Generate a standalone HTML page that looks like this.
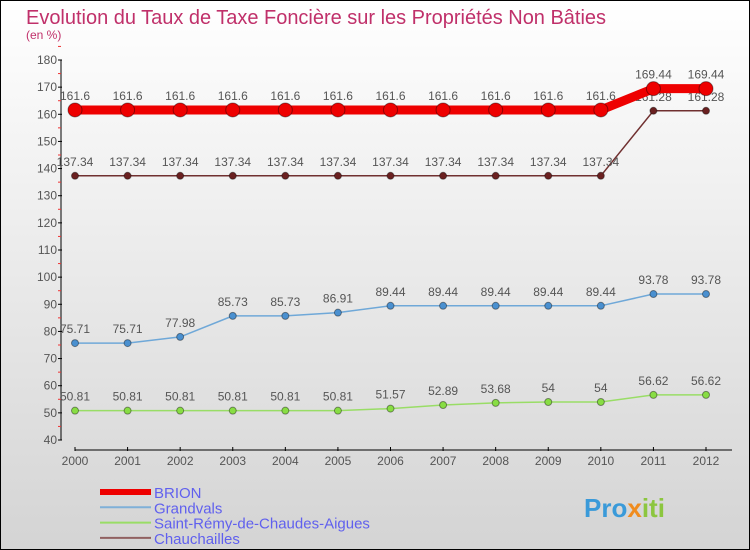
<!DOCTYPE html>
<html><head><meta charset="utf-8"><style>
body{margin:0}
svg{display:block;font-family:"Liberation Sans",sans-serif}
</style></head><body>
<svg width="750" height="550" xmlns="http://www.w3.org/2000/svg">
<defs><linearGradient id="bg" x1="0" y1="0" x2="0" y2="1"><stop offset="0" stop-color="#ffffff"/><stop offset="1" stop-color="#d4d4d4"/></linearGradient></defs>
<rect x="0.5" y="0.5" width="749" height="549" fill="url(#bg)" stroke="#000"/>
<text x="26" y="24" font-size="20" fill="#c0306a" textLength="580">Evolution du Taux de Taxe Foncière sur les Propriétés Non Bâties</text>
<text x="26" y="39" font-size="12" fill="#c0306a">(en %)</text>
<g id="axes"></g>
<g id="series"></g>
<g id="legend"></g>
<text x="584" y="517" font-size="26" font-weight="bold" fill="#3a9ad9">Pro<tspan fill="#f08c1e">x</tspan><tspan fill="#8cc63f">iti</tspan></text>
</svg>
<script>
const years=["2000","2001","2002","2003","2004","2005","2006","2007","2008","2009","2010","2011","2012"];
const yTicks=[40,50,60,70,80,90,100,110,120,130,140,150,160,170,180];
const brion=[161.6,161.6,161.6,161.6,161.6,161.6,161.6,161.6,161.6,161.6,161.6,169.44,169.44];
const grandvals=[75.71,75.71,77.98,85.73,85.73,86.91,89.44,89.44,89.44,89.44,89.44,93.78,93.78];
const saintRemy=[50.81,50.81,50.81,50.81,50.81,50.81,51.57,52.89,53.68,54,54,56.62,56.62];
const chauchailles=[137.34,137.34,137.34,137.34,137.34,137.34,137.34,137.34,137.34,137.34,137.34,161.28,161.28];
const NS="http://www.w3.org/2000/svg";
const xS=i=>75+i*(706-75)/(years.length-1);
const yS=v=>440-(v-40)*(380/140);
function mk(t,a,p){const e=document.createElementNS(NS,t);for(const k in a)e.setAttribute(k,a[k]);p.appendChild(e);return e;}
const ax=document.getElementById('axes');
let l=mk('line',{x1:61,y1:yS(180),x2:61,y2:440,stroke:'#000'},ax);


yTicks.forEach(v=>{
 mk('line',{x1:58,y1:yS(v),x2:62,y2:yS(v),stroke:'#000'},ax);
 mk('line',{x1:58,y1:yS(v+5),x2:61,y2:yS(v+5),stroke:'#e33'},ax);
 const t=mk('text',{x:57,y:yS(v)+4,'font-size':12,'text-anchor':'end',fill:'#555'},ax);t.textContent=v;
 
 
});
l=mk('line',{x1:75,y1:450,x2:732,y2:450,stroke:'#000'},ax);


years.forEach((y,i)=>{
 mk('line',{x1:xS(i),y1:447,x2:xS(i),y2:451,stroke:'#000'},ax);
 const t=mk('text',{x:xS(i),y:465,'font-size':12,'text-anchor':'middle',fill:'#555'},ax);t.textContent=y;
 
 
});
const sg=document.getElementById('series');
function series(d,name,col,w,r,dot){
 const g=mk('g',{},sg);
 
 
 mk('polyline',{points:d.map((v,i)=>xS(i)+','+yS(v)).join(' '),fill:'none',stroke:col,'stroke-width':w,'stroke-linejoin':'round'},g);
 d.forEach((v,i)=>{
  const c=mk('circle',{cx:xS(i),cy:yS(v),r:r,fill:dot,stroke:'rgba(0,0,0,0.4)','stroke-width':1},g);
  
  
  const t=mk('text',{x:xS(i),y:yS(v)-10,'font-size':12,'text-anchor':'middle',fill:'#555'},g);t.textContent=v;
  
  
 });
}
series(saintRemy,'saint-remy','#99dd66',1.5,3.5,'#88dd44');
series(grandvals,'grandvals','#6fa8d8',1.5,3.5,'#4a90d0');
series(chauchailles,'chauchailles','#703030',1.5,3.5,'#6a2020');
series(brion,'brion','#ee0000',9,7,'#ee0000');
const lg=document.getElementById('legend');
[["BRION","#ee0000",6],["Grandvals","#7fb0d8",2],["Saint-Rémy-de-Chaudes-Aigues","#99dd66",2],["Chauchailles","#906060",2]].forEach((e,i)=>{
 const y=492+i*15.3;
 const g=mk('g',{},lg);
 
 
 mk('line',{x1:100,y1:y,x2:151,y2:y,stroke:e[1],'stroke-width':e[2]},g);
 const t=mk('text',{x:154,y:y+6,'font-size':15,fill:'#6060ee'},g);t.textContent=e[0];
});
</script>
</body></html>
